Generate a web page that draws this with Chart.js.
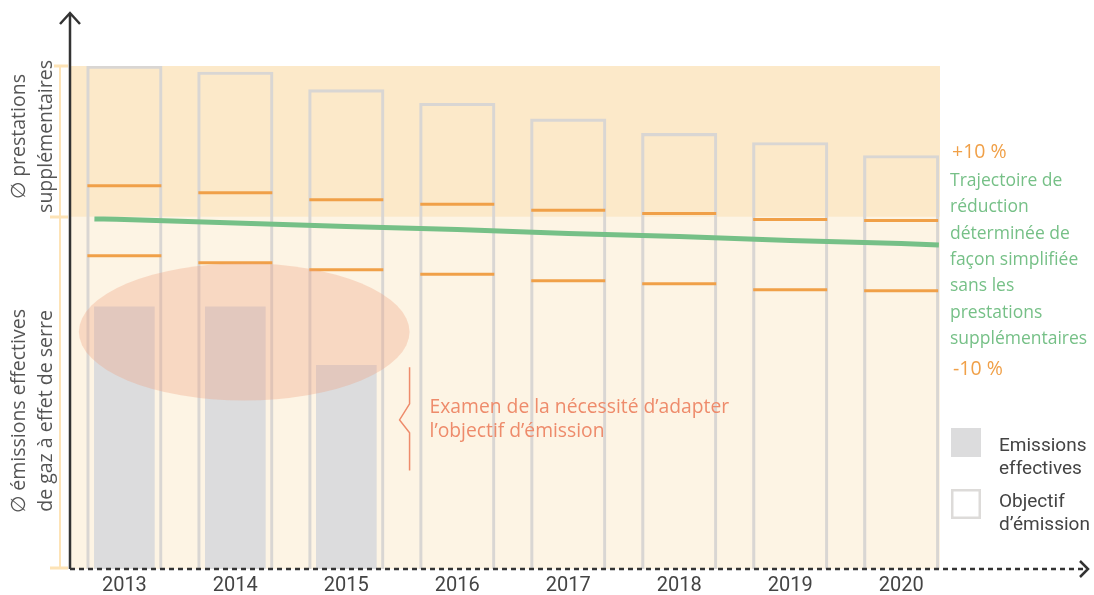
<!DOCTYPE html>
<html>
<head>
<meta charset="utf-8">
<script src="https://cdn.jsdelivr.net/npm/chart.js@4.4.1/dist/chart.umd.min.js"></script>
<style>
  html, body { margin: 0; padding: 0; background: #fff; }
  #wrap { width: 1094px; height: 595px; position: relative; }
</style>
</head>
<body>
<div id="wrap"><canvas id="chart" width="1094" height="595"></canvas></div>
<script>
// values (index: objective 2013 = 100)
const years = [2013, 2014, 2015, 2016, 2017, 2018, 2019, 2020];
const objectif = [100, 98.8, 95.3, 92.6, 89.5, 86.6, 84.8, 82.2];
const emissionYears = [2013, 2014, 2015];
const emissions = [52.1, 52.1, 40.5];
const plus10 = [76.2, 74.8, 73.4, 72.5, 71.3, 70.7, 69.5, 69.3];
const minus10 = [62.3, 60.9, 59.5, 58.6, 57.3, 56.7, 55.5, 55.3];
const trajX = [2012.73, 2013, 2014, 2015, 2016, 2017, 2018, 2019, 2020, 2020.34];
const trajY = [69.6, 69.5, 68.8, 68.1, 67.5, 66.7, 66.1, 65.3, 64.7, 64.4];
const bandTop = 100;
const bandSplit = 70;
const reviewZone = { x0: 2012.59, x1: 2015.57, y0: 33.5, y1: 60.8 };
const reviewBracket = { x: 2015.57, y0: 40.1, y1: 19.6 };

const trajLabel = ['Trajectoire de', 'réduction', 'déterminée de', 'façon simplifiée',
  'sans les', 'prestations', 'supplémentaires'];
const reviewLabel = ['Examen de la nécessité d\u2019adapter', 'l\u2019objectif d\u2019émission'];

const GREEN = '#76c087';
const ORANGE = '#f0a048';
const SALMON = '#ee8b6b';
const COLOR_FONT = '"Open Sans", sans-serif';
const TEXT_FONT = 'Roboto, sans-serif';

const decor = {
    id: 'decor',
    beforeDatasetsDraw(chart) {
        const { ctx, chartArea: a, scales: { y } } = chart;
        ctx.save();
        ctx.fillStyle = '#fce9c9';
        ctx.fillRect(a.left, y.getPixelForValue(bandTop), a.right - a.left,
            y.getPixelForValue(bandSplit) - y.getPixelForValue(bandTop));
        ctx.fillStyle = '#fdf4e4';
        ctx.fillRect(a.left, y.getPixelForValue(bandSplit), a.right - a.left,
            y.getPixelForValue(0) - y.getPixelForValue(bandSplit));
        ctx.restore();
    },
    afterDatasetsDraw(chart) {
        const { ctx, scales: { x, y } } = chart;
        ctx.save();
        // review zone
        const x0 = x.getPixelForValue(reviewZone.x0), x1 = x.getPixelForValue(reviewZone.x1);
        const y0 = y.getPixelForValue(reviewZone.y1), y1 = y.getPixelForValue(reviewZone.y0);
        ctx.fillStyle = 'rgba(240, 160, 125, 0.32)';
        ctx.beginPath();
        ctx.ellipse((x0 + x1) / 2, (y0 + y1) / 2, (x1 - x0) / 2, (y1 - y0) / 2, 0, 0, Math.PI * 2);
        ctx.fill();

        // bracket
        const bx = x.getPixelForValue(reviewBracket.x);
        const by0 = y.getPixelForValue(reviewBracket.y0), by1 = y.getPixelForValue(reviewBracket.y1);
        const mid = (by0 + by1) / 2;
        ctx.strokeStyle = SALMON;
        ctx.lineWidth = 1.5;
        ctx.beginPath();
        ctx.moveTo(bx, by0);
        ctx.lineTo(bx, mid - 15);
        ctx.lineTo(bx - 10, mid + 1);
        ctx.lineTo(bx, mid + 14);
        ctx.lineTo(bx, by1);
        ctx.stroke();

        ctx.fillStyle = SALMON;
        ctx.font = '19.3px ' + COLOR_FONT;
        ctx.textAlign = 'left';
        ctx.textBaseline = 'alphabetic';
        reviewLabel.forEach((t, i) => ctx.fillText(t, bx + 20, mid - 6 + i * 24.5));
        ctx.restore();
    },
    afterDraw(chart) {
        const { ctx, chartArea: a, scales: { y } } = chart;
        const yTop = y.getPixelForValue(bandTop);
        const ySplit = y.getPixelForValue(bandSplit);
        const yBase = y.getPixelForValue(0);
        ctx.save();

        // side brackets
        ctx.strokeStyle = '#fde3b6';
        ctx.lineWidth = 2;
        ctx.beginPath();
        ctx.moveTo(60, yTop); ctx.lineTo(60, yBase);
        ctx.stroke();
        ctx.lineWidth = 3;
        ctx.beginPath();
        ctx.moveTo(54, yTop); ctx.lineTo(68, yTop);
        ctx.moveTo(50, ySplit); ctx.lineTo(68, ySplit);
        ctx.moveTo(50, yBase - 1); ctx.lineTo(68, yBase - 1);
        ctx.stroke();

        // y axis
        ctx.strokeStyle = '#333';
        ctx.lineWidth = 2.5;
        ctx.beginPath();
        ctx.moveTo(a.left, yBase); ctx.lineTo(a.left, 13);
        ctx.moveTo(a.left - 10, 24); ctx.lineTo(a.left, 13); ctx.lineTo(a.left + 10, 24);
        ctx.stroke();

        // x axis
        ctx.setLineDash([5, 4]);
        ctx.beginPath();
        ctx.moveTo(a.left, yBase); ctx.lineTo(1086, yBase);
        ctx.stroke();
        ctx.setLineDash([]);
        ctx.beginPath();
        ctx.moveTo(1080, yBase - 8); ctx.lineTo(1088, yBase); ctx.lineTo(1080, yBase + 8);
        ctx.stroke();

        // axis titles
        ctx.fillStyle = '#555';
        ctx.font = '19.5px ' + COLOR_FONT;
        ctx.textAlign = 'center';
        ctx.textBaseline = 'alphabetic';
        const vtext = (lines, cy) => {
            ctx.save();
            ctx.translate(0, cy);
            ctx.rotate(-Math.PI / 2);
            lines.forEach((t, i) => ctx.fillText(t, 0, 25 + i * 27));
            ctx.restore();
        };
        vtext(['\u2205 prestations', 'supplémentaires'], (yTop + ySplit) / 2 - 5);
        vtext(['\u2205 émissions effectives', 'de gaz à effet de serre'], (ySplit + yBase) / 2 + 18);

        // right labels
        ctx.textAlign = 'left';
        ctx.font = '19.5px ' + COLOR_FONT;
        ctx.fillStyle = ORANGE;
        ctx.fillText('+10 %', 952, 158);
        ctx.fillText('-10 %', 953, 375);
        ctx.font = '17.5px ' + COLOR_FONT;
        ctx.fillStyle = GREEN;
        trajLabel.forEach((t, i) => ctx.fillText(t, 950, 186 + i * 26.3));

        // legend
        ctx.fillStyle = '#dcdcdd';
        ctx.fillRect(951, 428, 30, 29);
        ctx.strokeStyle = '#dddbd9';
        ctx.lineWidth = 2.5;
        ctx.strokeRect(952.25, 490.25, 27.5, 27.5);
        ctx.fillStyle = '#444';
        ctx.font = '19px ' + TEXT_FONT;
        ctx.fillText('Emissions', 999, 450.5);
        ctx.fillText('effectives', 999, 473.5);
        ctx.fillText('Objectif', 999, 507);
        ctx.fillText('d\u2019émission', 999, 530);
        ctx.restore();
    }
};

const ctx = document.getElementById('chart').getContext('2d');
new Chart(ctx, {
    type: 'bar',
    data: {
        datasets: [
            {
                type: 'line',
                label: 'Trajectoire de réduction',
                data: trajX.map((v, i) => ({ x: v, y: trajY[i] })),
                borderColor: GREEN,
                borderWidth: 5,
                pointRadius: 0,
                tension: 0.3,
                order: 1
            },
            {
                type: 'line',
                label: '+10 %',
                data: years.map((v, i) => ({ x: v, y: plus10[i] })),
                showLine: false,
                pointStyle: 'line',
                pointRadius: 37,
                pointBorderColor: ORANGE,
                pointBorderWidth: 3,
                order: 2
            },
            {
                type: 'line',
                label: '-10 %',
                data: years.map((v, i) => ({ x: v, y: minus10[i] })),
                showLine: false,
                pointStyle: 'line',
                pointRadius: 37,
                pointBorderColor: ORANGE,
                pointBorderWidth: 3,
                order: 2
            },
            {
                label: 'Objectif d\u2019émission',
                data: years.map((v, i) => ({ x: v, y: objectif[i] })),
                backgroundColor: 'rgba(0,0,0,0)',
                borderColor: '#d9d6d3',
                borderWidth: 2.5,
                barThickness: 75.5,
                grouped: false,
                order: 3
            },
            {
                label: 'Emissions effectives',
                data: emissionYears.map((v, i) => ({ x: v, y: emissions[i] })),
                backgroundColor: '#dcdcdd',
                barThickness: 60,
                grouped: false,
                order: 4
            }
        ]
    },
    options: {
        responsive: false,
        animation: false,
        events: [],
        layout: { autoPadding: false, padding: { left: 70, right: 154, top: 66, bottom: -8 } },
        plugins: { legend: { display: false }, tooltip: { enabled: false } },
        scales: {
            x: {
                type: 'linear',
                min: 2012.51,
                max: 2020.35,
                offset: false,
                afterBuildTicks: (scale) => { scale.ticks = years.map(v => ({ value: v })); },
                grid: { display: false, drawTicks: false },
                border: { display: false },
                ticks: {
                    color: '#444',
                    font: { family: 'Roboto', size: 20, lineHeight: 1 },
                    padding: 7,
                    maxRotation: 0,
                    autoSkip: false,
                    callback: (v) => String(v)
                }
            },
            y: { min: 0, max: 100, display: false }
        }
    },
    plugins: [decor]
});
</script>
</body>
</html>
